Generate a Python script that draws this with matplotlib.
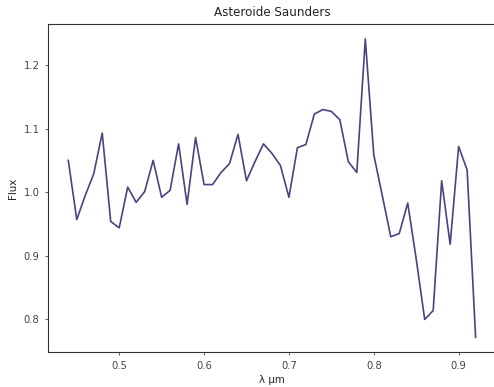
import numpy as np
import matplotlib.pyplot as plt

# wavelength grid (microns) and reflectance flux of the asteroid
wavelength = np.round(np.arange(0.44, 0.925, 0.01), 2)
flux = [1.050, 0.957, 0.995, 1.029, 1.093, 0.954, 0.944, 1.008, 0.984, 1.001,
        1.050, 0.992, 1.003, 1.076, 0.981, 1.086, 1.012, 1.012, 1.031, 1.045,
        1.091, 1.018, 1.048, 1.076, 1.061, 1.042, 0.992, 1.070, 1.075, 1.123,
        1.130, 1.127, 1.114, 1.048, 1.031, 1.241, 1.059, 0.995, 0.930, 0.935,
        0.983, 0.895, 0.800, 0.814, 1.018, 0.918, 1.072, 1.035, 0.772]

fig = plt.figure(figsize=(4.94, 3.87), dpi=100)
ax = fig.add_axes([0.097, 0.090, 0.907, 0.848])
ax.plot(wavelength, flux, color='#45457f', linewidth=1.2)
ax.set_title("Asteroide Saunders", fontsize=8.6, color='#222222')
ax.set_xlabel("λ μm", fontsize=7.4, color='#222222', labelpad=3)
ax.set_ylabel("Flux", fontsize=7.4, color='#222222')
ax.tick_params(labelsize=7.2, length=2.5, width=0.6, colors='#444444')
for s in ax.spines.values():
    s.set_linewidth(0.8)
    s.set_color('#333333')
plt.savefig('out.png', dpi=100)
